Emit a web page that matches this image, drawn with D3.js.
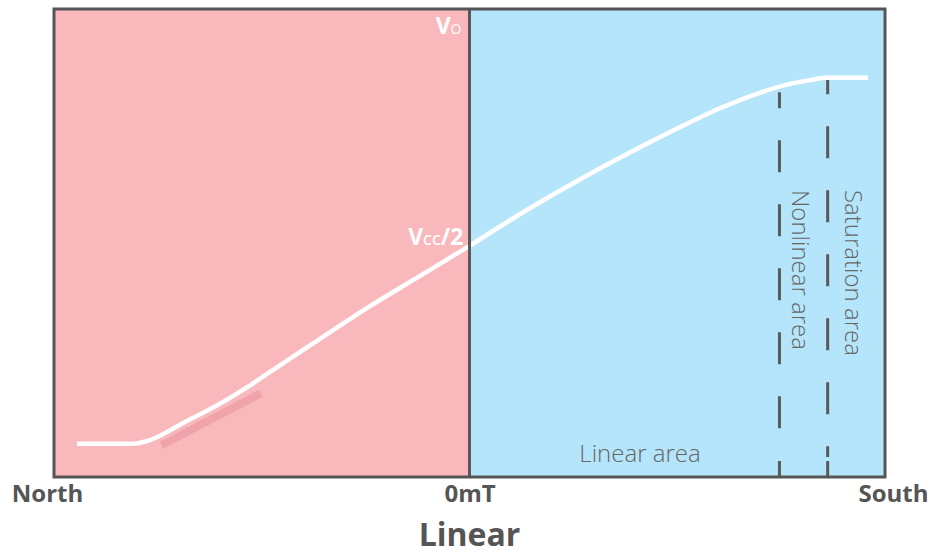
<!DOCTYPE html>
<html><head><meta charset="utf-8">
<script src="https://cdn.jsdelivr.net/npm/d3@7"></script>
<style>body{margin:0;background:#fff}svg{display:block}</style>
</head><body><svg id="c" width="933" height="555"></svg>
<script>
// magnetic field (relative, -100 = North, 100 = South) and output voltage (% of range)
const fieldX = [-94.5,-81.5,-76.9,-69.0,-60.8,-52.8,-44.9,-36.7,-24.7,-12.6,0,12.2,24.2,36.2,48.3,60.3,69.9,77.1,82.0,85.8,95.9];
const outputY = [7.1,7.1,7.9,11.5,15.3,19.6,24.3,29.1,36.1,42.6,49.4,56.2,62.4,68.2,73.7,78.8,82.1,84.0,84.8,85.3,85.3];
const tickValues = [-100,0,100];
const tickLabels = ["North","0mT","South"];
const boundaryX = [74.6,86.2];      // nonlinear / saturation boundaries
const boundaryTop = [82.2,85.0];
const regionLabels = ["Nonlinear area","Saturation area"];
const shadowX = [-74.1,-50.2], shadowY = [6.8,17.9];

const svg = d3.select("#c");
const x = d3.scaleLinear().domain([-100,100]).range([54,885]);
const y = d3.scaleLinear().domain([0,100]).range([477,9]);
const font = "'Open Sans', 'Noto Sans', sans-serif";

svg.append("rect").attr("x",x(-100)).attr("y",y(100)).attr("width",x(0)-x(-100)).attr("height",y(0)-y(100)).attr("fill","#F9B8BC");
svg.append("rect").attr("x",x(0)).attr("y",y(100)).attr("width",x(100)-x(0)).attr("height",y(0)-y(100)).attr("fill","#B4E5FA");

// shadow stroke
svg.append("line").attr("x1",x(shadowX[0])).attr("y1",y(shadowY[0])).attr("x2",x(shadowX[1])).attr("y2",y(shadowY[1]))
  .attr("stroke","#EFA4AC").attr("stroke-width",8);

// dashed boundaries
const offs=[16,17];
boundaryX.forEach((bx,i)=>{
  svg.append("line").attr("x1",x(bx)).attr("x2",x(bx)).attr("y1",y(boundaryTop[i])).attr("y2",y(0)-20)
    .attr("stroke","#5a5a5a").attr("stroke-width",3).attr("stroke-dasharray","32,32").attr("stroke-dashoffset",offs[i]);
  svg.append("line").attr("x1",x(bx)).attr("x2",x(bx)).attr("y1",y(0)-16).attr("y2",y(0))
    .attr("stroke","#5a5a5a").attr("stroke-width",3);
});

// curve
const pts = fieldX.map((v,i)=>[v,outputY[i]]);
svg.append("path").datum(pts).attr("fill","none").attr("stroke","#fff").attr("stroke-width",4.5)
  .attr("d",d3.line().x(d=>x(d[0])).y(d=>y(d[1])).curve(d3.curveMonotoneX));

// frame
svg.append("line").attr("x1",x(0)).attr("x2",x(0)).attr("y1",y(100)).attr("y2",y(0)).attr("stroke","#595959").attr("stroke-width",3);
svg.append("rect").attr("x",x(-100)).attr("y",y(100)).attr("width",x(100)-x(-100)).attr("height",y(0)-y(100))
  .attr("fill","none").attr("stroke","#555").attr("stroke-width",3);

// V labels
const vo = svg.append("text").attr("x",x(0)-8).attr("y",34).attr("text-anchor","end").attr("fill","#fff").attr("font-family",font);
vo.append("tspan").attr("font-size",23).attr("font-weight",700).text("V");
vo.append("tspan").attr("font-size",14).attr("font-weight",400).text("O");
const vc = svg.append("text").attr("x",x(0)-6).attr("y",245).attr("text-anchor","end").attr("fill","#fff").attr("font-family",font);
vc.append("tspan").attr("font-size",23).attr("font-weight",700).text("V");
vc.append("tspan").attr("font-size",14).attr("font-weight",600).text("CC");
vc.append("tspan").attr("font-size",23).attr("font-weight",700).text("/2");

// axis
const ax = svg.append("g").attr("transform",`translate(0,${y(0)})`)
  .call(d3.axisBottom(x).tickValues(tickValues).tickSize(0).tickPadding(8).tickFormat((d,i)=>tickLabels[i]));
ax.select(".domain").remove();
ax.selectAll("text").attr("font-family",font).attr("font-size",24).attr("font-weight",700).attr("fill","#555")
  .attr("dx",(d,i)=>i===0?-7:(i===2?8:0));
svg.append("text").attr("x",x(0)).attr("y",546).attr("text-anchor","middle").attr("font-family",font)
  .attr("font-size",32).attr("font-weight",700).attr("fill","#555").text("Linear");

// region labels
svg.append("text").attr("x",640).attr("y",462).attr("text-anchor","middle").attr("font-family",font)
  .attr("font-size",24).attr("font-weight",300).attr("fill","#666").text("Linear area");
const rx=[792,845];
regionLabels.forEach((t,i)=>{
  svg.append("text").attr("transform",`translate(${rx[i]},190) rotate(90)`).attr("font-family",font)
    .attr("font-size",24).attr("font-weight",300).attr("fill","#666").text(t);
});
</script></body></html>
